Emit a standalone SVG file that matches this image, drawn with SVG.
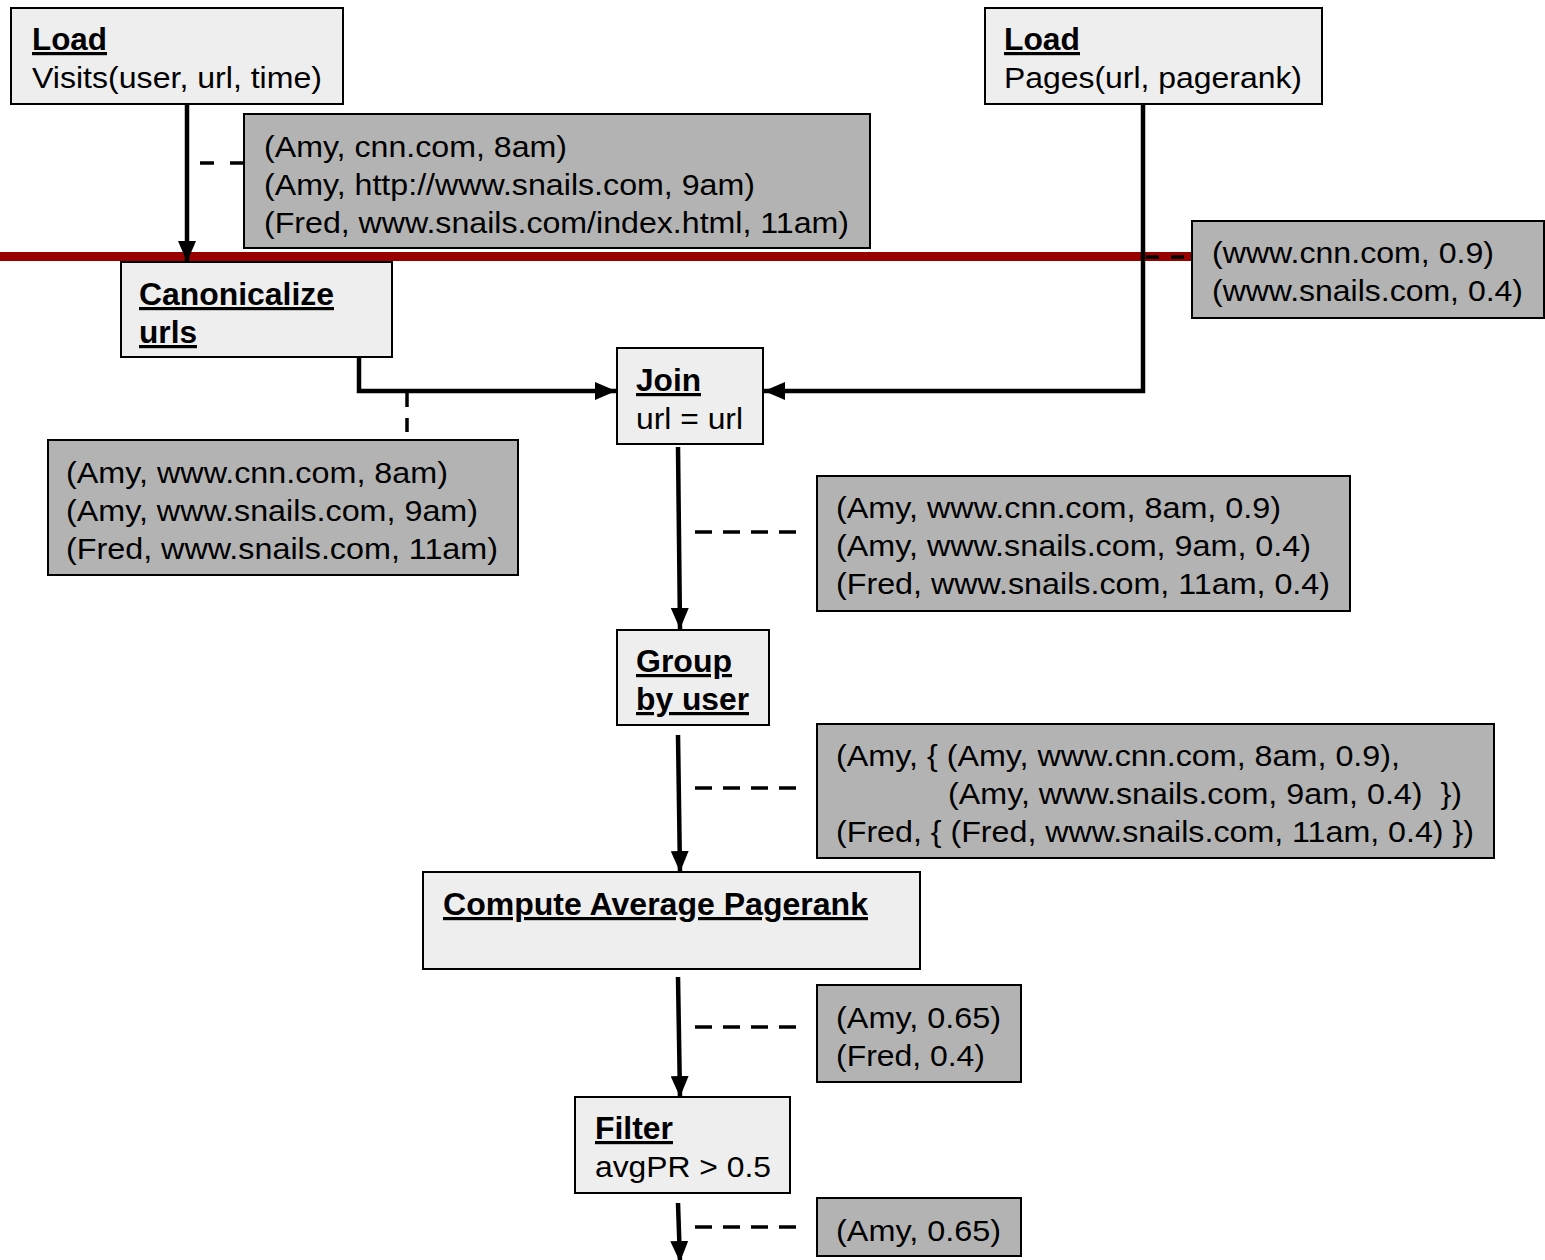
<svg xmlns="http://www.w3.org/2000/svg" width="1545" height="1260" viewBox="0 0 1545 1260">
  <style>
    .op { fill: #eeeeee; stroke: #000; stroke-width: 2; }
    .data { fill: #b3b3b3; stroke: #000; stroke-width: 2; }
    text { font-family: "Liberation Sans", Arial, sans-serif; font-size: 30px; fill: #000; white-space: pre; }
    .h { font-weight: bold; text-decoration: underline; font-size: 32px; }
    .flow { fill: none; stroke: #000; stroke-width: 4.5; }
    .dash { fill: none; stroke: #000; stroke-width: 3.5; }
  </style>
  <defs>
    <marker id="arrow" markerUnits="userSpaceOnUse" markerWidth="21" markerHeight="18" refX="21" refY="9" orient="auto">
      <path d="M0,0 L21,9 L0,18 Z" fill="#000"/>
    </marker>
  </defs>

  <rect width="1545" height="1260" fill="#fff"/>

  <!-- divider between load and processing stages -->
  <rect x="0" y="252" width="1545" height="9" fill="#990000"/>

  <g id="connectors">
    <path class="flow" d="M187,95 L187,262" marker-end="url(#arrow)"/>
    <path class="flow" d="M1143,95 L1143,391 L764,391" marker-end="url(#arrow)"/>
    <path class="flow" d="M359,349 L359,391 L616,391" marker-end="url(#arrow)"/>
    <path class="flow" d="M678,447 L680,629" marker-end="url(#arrow)"/>
    <path class="flow" d="M678,735 L680,872" marker-end="url(#arrow)"/>
    <path class="flow" d="M678,977 L680,1097" marker-end="url(#arrow)"/>
    <path class="flow" d="M678,1203 L680,1262" marker-end="url(#arrow)"/>

    <path class="dash" d="M200,163 L244,163" stroke-dasharray="14 16"/>
    <path class="dash" d="M1146,257 L1192,257" stroke-dasharray="13 12"/>
    <path class="dash" d="M407,393 L407,435" stroke-dasharray="14 11"/>
    <path class="dash" d="M695,532 L797,532" stroke-dasharray="17 11"/>
    <path class="dash" d="M695,788 L797,788" stroke-dasharray="17 11"/>
    <path class="dash" d="M695,1027 L797,1027" stroke-dasharray="17 11"/>
    <path class="dash" d="M695,1227 L797,1227" stroke-dasharray="17 11"/>
  </g>

  <g id="load-visits">
    <rect class="op" x="11" y="8" width="332" height="96"/>
    <text class="h" x="32" y="50" textLength="75" lengthAdjust="spacingAndGlyphs">Load</text>
    <text x="32" y="88" textLength="290" lengthAdjust="spacingAndGlyphs">Visits(user, url, time)</text>
  </g>

  <g id="visits-data">
    <rect class="data" x="244" y="114" width="626" height="134"/>
    <text x="264" y="157" textLength="303" lengthAdjust="spacingAndGlyphs">(Amy, cnn.com, 8am)</text>
    <text x="264" y="195" textLength="491" lengthAdjust="spacingAndGlyphs">(Amy, http://www.snails.com, 9am)</text>
    <text x="264" y="233" textLength="585" lengthAdjust="spacingAndGlyphs">(Fred, www.snails.com/index.html, 11am)</text>
  </g>

  <g id="load-pages">
    <rect class="op" x="985" y="8" width="337" height="96"/>
    <text class="h" x="1004" y="50" textLength="76" lengthAdjust="spacingAndGlyphs">Load</text>
    <text x="1004" y="88" textLength="298" lengthAdjust="spacingAndGlyphs">Pages(url, pagerank)</text>
  </g>

  <g id="pages-data">
    <rect class="data" x="1192" y="221" width="352" height="97"/>
    <text x="1212" y="263" textLength="282" lengthAdjust="spacingAndGlyphs">(www.cnn.com, 0.9)</text>
    <text x="1212" y="301" textLength="311" lengthAdjust="spacingAndGlyphs">(www.snails.com, 0.4)</text>
  </g>

  <g id="canonicalize">
    <rect class="op" x="121" y="262" width="271" height="95"/>
    <text class="h" x="139" y="305" textLength="195" lengthAdjust="spacingAndGlyphs">Canonicalize</text>
    <text class="h" x="139" y="343" textLength="58" lengthAdjust="spacingAndGlyphs">urls</text>
  </g>

  <g id="join">
    <rect class="op" x="617" y="348" width="146" height="96"/>
    <text class="h" x="636" y="391" textLength="65" lengthAdjust="spacingAndGlyphs">Join</text>
    <text x="636" y="429" textLength="107" lengthAdjust="spacingAndGlyphs">url = url</text>
  </g>

  <g id="canonical-data">
    <rect class="data" x="48" y="440" width="470" height="135"/>
    <text x="66" y="483" textLength="382" lengthAdjust="spacingAndGlyphs">(Amy, www.cnn.com, 8am)</text>
    <text x="66" y="521" textLength="412" lengthAdjust="spacingAndGlyphs">(Amy, www.snails.com, 9am)</text>
    <text x="66" y="559" textLength="432" lengthAdjust="spacingAndGlyphs">(Fred, www.snails.com, 11am)</text>
  </g>

  <g id="join-data">
    <rect class="data" x="817" y="476" width="533" height="135"/>
    <text x="836" y="518" textLength="445" lengthAdjust="spacingAndGlyphs">(Amy, www.cnn.com, 8am, 0.9)</text>
    <text x="836" y="556" textLength="475" lengthAdjust="spacingAndGlyphs">(Amy, www.snails.com, 9am, 0.4)</text>
    <text x="836" y="594" textLength="494" lengthAdjust="spacingAndGlyphs">(Fred, www.snails.com, 11am, 0.4)</text>
  </g>

  <g id="group-by-user">
    <rect class="op" x="617" y="630" width="152" height="95"/>
    <text class="h" x="636" y="672" textLength="96" lengthAdjust="spacingAndGlyphs">Group</text>
    <text class="h" x="636" y="710" textLength="113" lengthAdjust="spacingAndGlyphs">by user</text>
  </g>

  <g id="group-data">
    <rect class="data" x="817" y="724" width="677" height="134"/>
    <text x="836" y="766" textLength="564" lengthAdjust="spacingAndGlyphs">(Amy, { (Amy, www.cnn.com, 8am, 0.9),</text>
    <text x="948" y="804" textLength="514" lengthAdjust="spacingAndGlyphs" xml:space="preserve">(Amy, www.snails.com, 9am, 0.4)  })</text>
    <text x="836" y="842" textLength="638" lengthAdjust="spacingAndGlyphs">(Fred, { (Fred, www.snails.com, 11am, 0.4) })</text>
  </g>

  <g id="compute-average">
    <rect class="op" x="423" y="872" width="497" height="97"/>
    <text class="h" x="443" y="915" textLength="425" lengthAdjust="spacingAndGlyphs">Compute Average Pagerank</text>
  </g>

  <g id="average-data">
    <rect class="data" x="817" y="985" width="204" height="97"/>
    <text x="836" y="1028" textLength="165" lengthAdjust="spacingAndGlyphs">(Amy, 0.65)</text>
    <text x="836" y="1066" textLength="149" lengthAdjust="spacingAndGlyphs">(Fred, 0.4)</text>
  </g>

  <g id="filter">
    <rect class="op" x="575" y="1097" width="215" height="96"/>
    <text class="h" x="595" y="1139" textLength="78" lengthAdjust="spacingAndGlyphs">Filter</text>
    <text x="595" y="1177" textLength="176" lengthAdjust="spacingAndGlyphs">avgPR &gt; 0.5</text>
  </g>

  <g id="filter-data">
    <rect class="data" x="817" y="1198" width="204" height="58"/>
    <text x="836" y="1241" textLength="165" lengthAdjust="spacingAndGlyphs">(Amy, 0.65)</text>
  </g>
</svg>
